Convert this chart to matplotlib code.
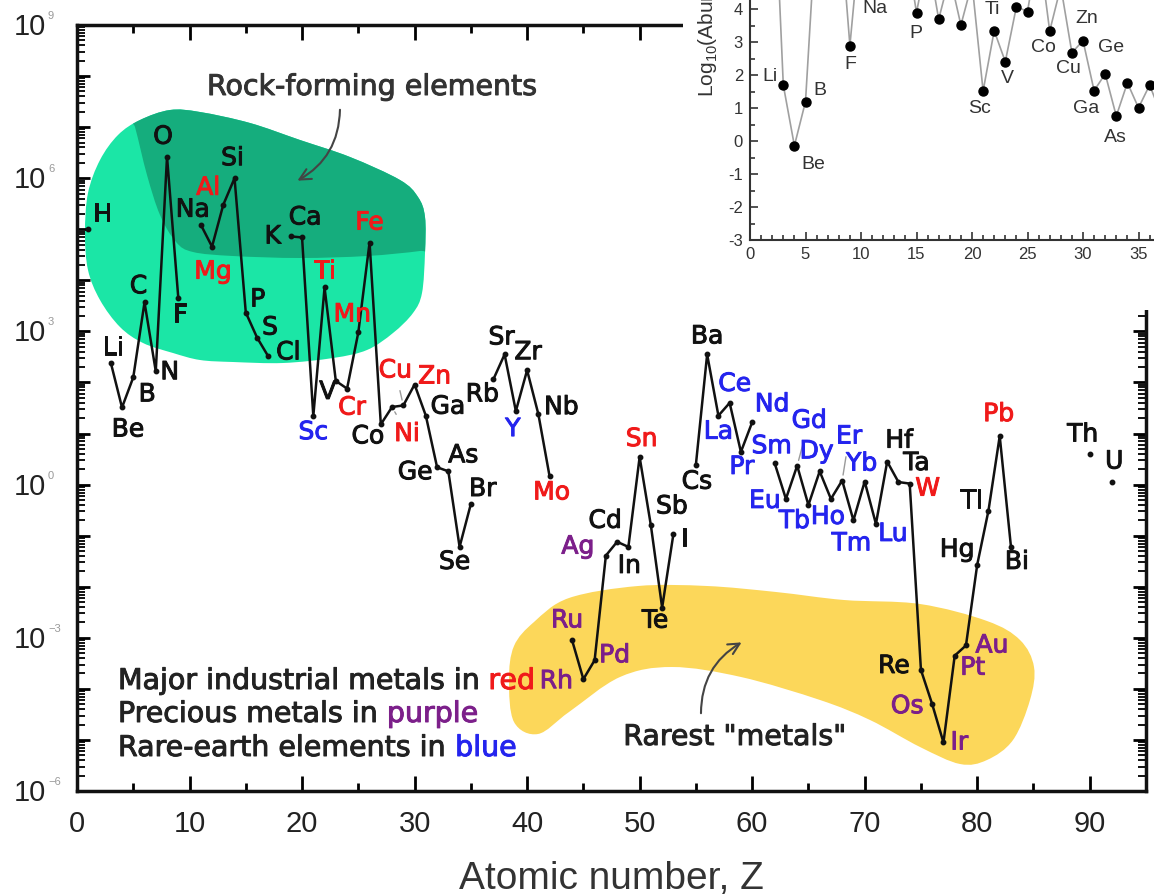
import matplotlib
matplotlib.use("Agg")
import matplotlib.pyplot as plt
import matplotlib.patheffects as pe
import numpy as np
from matplotlib.path import Path
from matplotlib.patches import PathPatch, Rectangle
from matplotlib.ticker import MultipleLocator, LogLocator, NullFormatter

plt.rcParams['font.family'] = ['Liberation Sans', 'DejaVu Sans']
plt.rcParams['axes.unicode_minus'] = False

# ---------------- data: abundance in crust (log10 atoms per 10^6 Si) ----------------
symbols = ['H', 'He', 'Li', 'Be', 'B', 'C', 'N', 'O', 'F', 'Ne',
           'Na', 'Mg', 'Al', 'Si', 'P', 'S', 'Cl', 'Ar', 'K', 'Ca',
           'Sc', 'Ti', 'V', 'Cr', 'Mn', 'Fe', 'Co', 'Ni', 'Cu', 'Zn',
           'Ga', 'Ge', 'As', 'Se', 'Br', 'Kr', 'Rb', 'Sr', 'Y', 'Zr',
           'Nb', 'Mo', 'Tc', 'Ru', 'Rh', 'Pd', 'Ag', 'Cd', 'In', 'Sn',
           'Sb', 'Te', 'I', 'Xe', 'Cs', 'Ba', 'La', 'Ce', 'Pr', 'Nd',
           'Pm', 'Sm', 'Eu', 'Gd', 'Tb', 'Dy', 'Ho', 'Er', 'Tm', 'Yb',
           'Lu', 'Hf', 'Ta', 'W', 'Re', 'Os', 'Ir', 'Pt', 'Au', 'Hg',
           'Tl', 'Pb', 'Bi', 'Po', 'At', 'Rn', 'Fr', 'Ra', 'Ac', 'Th',
           'Pa', 'U']
log_abund = [5.00, None, 2.39, 1.51, 2.10, 3.57, 2.22, 6.42, 3.66, None,
             5.09, 4.66, 5.48, 6.00, 3.37, 2.88, 2.51, None, 4.86, 4.84,
             1.34, 3.86, 2.03, 1.88, 2.98, 4.74, 1.18, 1.52, 1.55, 1.96,
             1.35, 0.34, 0.26, -1.22, -0.38, None, 2.06, 2.55, 1.44, 2.24,
             1.38, 0.16, None, -3.05, -3.81, -3.44, -1.39, -1.12, -1.22, 0.54,
             -0.80, -2.41, -0.97, None, 0.39, 2.55, 1.35, 1.60, 0.64, 1.22,
             None, 0.42, -0.28, 0.37, -0.40, 0.26, -0.28, 0.08, -0.70, 0.06,
             -0.77, 0.45, 0.05, 0.02, -3.63, -4.30, -5.05, -3.35, -3.15, -1.57,
             -0.51, 0.95, -1.22, None, None, None, None, None, None, 0.59,
             None, 0.06]

red_elements = ['Mg', 'Al', 'Ti', 'Cr', 'Mn', 'Fe', 'Ni', 'Cu', 'Zn', 'Mo', 'Sn', 'W', 'Pb']
purple_elements = ['Ru', 'Rh', 'Pd', 'Ag', 'Os', 'Ir', 'Pt', 'Au']
blue_elements = ['Sc', 'Y', 'La', 'Ce', 'Pr', 'Nd', 'Sm', 'Eu', 'Gd', 'Tb', 'Dy',
                 'Ho', 'Er', 'Tm', 'Yb', 'Lu']

# inset: solar-system abundances, log10 (Si = 10^6), Z = 1..38
inset_log = [10.45, 9.41, 1.70, -0.14, 1.20, 6.85, 6.29, 7.17, 2.90, 6.51,
             4.76, 6.01, 4.92, 6.00, 3.90, 5.64, 3.70, 5.01, 3.52, 4.79,
             1.52, 3.35, 2.41, 4.08, 3.93, 5.94, 3.34, 4.69, 2.68, 3.05,
             1.53, 2.04, 0.76, 1.77, 1.01, 1.70, 0.85, 1.37]
inset_labelled = ['Li', 'Be', 'B', 'F', 'Na', 'P', 'Sc', 'Ti', 'V', 'Co', 'Cu',
                  'Zn', 'Ga', 'Ge', 'As']

# ---------------- layout (reference pixels) ----------------
W, H = 1154, 896
AX_L, AX_R, AX_T, AX_B = 77, 1146, 25, 791

RED, PURPLE, BLUE = '#f01a1a', '#7c1f8a', '#2424ee'
GREEN_LIGHT, GREEN_DARK, YELLOW = '#1be6a6', '#15ad7d', '#fcd75a'

# label offsets from point, in pixels (dx right, dy down)
label_off = {
    'H': (14, -15), 'Li': (2, -15), 'Be': (6, 22), 'B': (14, 17), 'C': (-6, -16),
    'N': (14, 1), 'O': (-4, -20), 'F': (2, 17), 'Na': (-8, -15), 'Mg': (1, 25),
    'Al': (-15, -17), 'Si': (-2, -20), 'P': (12, -13), 'S': (13, -10), 'Cl': (20, -4),
    'K': (-18, 0), 'Ca': (3, -20), 'Sc': (0, 16), 'Ti': (0, -16), 'V': (-8, 11),
    'Cr': (5, 19), 'Mn': (-6, -18), 'Fe': (0, -20), 'Co': (-13, 12), 'Ni': (15, 27),
    'Cu': (-8, -35), 'Zn': (20, -8), 'Ga': (22, -9), 'Ge': (-22, 5), 'As': (15, -16),
    'Se': (-5, 15), 'Br': (12, -15), 'Rb': (-11, 15), 'Sr': (-3, -17), 'Y': (-3, 18),
    'Zr': (1, -18), 'Nb': (23, -7), 'Mo': (2, 16), 'Ru': (-5, -20), 'Rh': (-27, 2),
    'Pd': (20, -5), 'Ag': (-28, -9), 'Cd': (-12, -21), 'In': (1, 19), 'Sn': (2, -18),
    'Sb': (21, -19), 'Te': (-7, 13), 'I': (11, 5), 'Cs': (1, 17), 'Ba': (0, -18),
    'La': (0, 16), 'Ce': (5, -19), 'Pr': (1, 15), 'Nd': (20, -18), 'Sm': (-3, -17),
    'Eu': (-21, 2), 'Gd': (12, -45), 'Tb': (-14, 16), 'Dy': (-3, -20), 'Ho': (-3, 18),
    'Er': (7, -44), 'Tm': (-2, 23), 'Yb': (-3, -18), 'Lu': (17, 10), 'Hf': (12, -21),
    'Ta': (18, -19), 'W': (18, 5), 'Re': (-27, -4), 'Os': (-25, 2), 'Ir': (16, 0),
    'Pt': (18, 12), 'Au': (26, 0), 'Hg': (-20, -15), 'Tl': (-17, -10), 'Pb': (-1, -22),
    'Bi': (6, 15), 'Th': (-7, -20), 'U': (2, -20),
}
leader = ['Cu', 'Ni', 'Gd', 'Er']

inset_off = {
    'Li': (-13, -9), 'Be': (19, 19), 'B': (14, -11), 'F': (0, 19), 'Na': (3, 24),
    'P': (-1, 21), 'Sc': (-4, 17), 'Ti': (-2, -21), 'V': (2, 17), 'Co': (-6, 16),
    'Zn': (4, -22), 'Cu': (-3, 16), 'Ge': (6, -26), 'Ga': (-8, 18), 'As': (-1, 21),
}

# blob outlines (reference pixels)
green_outline = [(140, 120), (170, 110), (200, 112), (250, 123), (300, 140), (350, 157),
                 (400, 180), (418, 197), (425, 217), (425, 253), (422, 293), (413, 313),
                 (393, 333), (367, 350), (333, 358), (283, 363), (233, 362), (200, 360),
                 (173, 353), (143, 343), (120, 327), (100, 300), (88, 270), (85, 233),
                 (88, 193), (100, 160), (118, 135)]
green_dark = [(125, 95), (445, 95), (445, 246), (420, 251), (367, 256), (300, 258),
              (233, 256), (193, 252), (176, 242), (160, 215), (147, 175), (135, 127)]
yellow_outline = [(534, 622), (569, 598), (638, 586), (707, 586), (776, 592), (844, 600),
                  (920, 604), (987, 621), (1020, 640), (1034, 667), (1030, 700),
                  (1013, 740), (987, 760), (960, 764), (920, 747), (870, 720), (820, 700),
                  (741, 677), (672, 667), (620, 677), (569, 712), (538, 734), (514, 722),
                  (509, 680), (514, 646)]


def px(x, y):
    return ((x - AX_L) / (AX_R - AX_L), (AX_B - y) / (AX_B - AX_T))


def smooth_path(pts):
    p = np.array([px(x, y) for x, y in pts])
    n = len(p)
    verts = [p[0]]
    codes = [Path.MOVETO]
    for i in range(n):
        p0, p1, p2, p3 = p[i - 1], p[i], p[(i + 1) % n], p[(i + 2) % n]
        verts += [p1 + (p2 - p0) / 6, p2 - (p3 - p1) / 6, p2]
        codes += [Path.CURVE4] * 3
    verts.append(p[0])
    codes.append(Path.CLOSEPOLY)
    return Path(verts, codes)


def heavy(color):
    # a bit heavier than the regular weight, like the reference lettering
    return [pe.withStroke(linewidth=0.7, foreground=color)]


fig = plt.figure(figsize=(W / 100, H / 100), dpi=100)
ax = fig.add_axes([AX_L / W, 1 - AX_B / H, (AX_R - AX_L) / W, (AX_B - AX_T) / H], zorder=0)

# blobs
gpatch = PathPatch(smooth_path(green_outline), facecolor=GREEN_LIGHT, edgecolor='none',
                   transform=ax.transAxes, zorder=1)
ax.add_patch(gpatch)
dpatch = PathPatch(smooth_path(green_dark), facecolor=GREEN_DARK, edgecolor='none',
                   transform=ax.transAxes, zorder=1.1)
ax.add_patch(dpatch)
dpatch.set_clip_path(gpatch)
ax.add_patch(PathPatch(smooth_path(yellow_outline), facecolor=YELLOW, edgecolor='none',
                       transform=ax.transAxes, zorder=1))

# main series
Z = np.arange(1, len(symbols) + 1)
vals = np.array([10.0 ** v if v is not None else np.nan for v in log_abund])
ax.plot(Z, vals, color='#111111', lw=1.8, marker='o', ms=3.2, zorder=3)

for z, s, v in zip(Z, symbols, vals):
    if np.isnan(v):
        continue
    c = '#111111'
    if s in red_elements:
        c = RED
    elif s in purple_elements:
        c = PURPLE
    elif s in blue_elements:
        c = BLUE
    dx, dy = label_off[s]
    arrow = None
    if s in leader:
        arrow = dict(arrowstyle='-', color='#9a9a9a', lw=1.0, shrinkA=4, shrinkB=4)
    ax.annotate(s, xy=(z, v), xytext=(dx, -dy), textcoords='offset pixels',
                ha='center', va='center', fontsize=18, color=c, family='DejaVu Sans',
                arrowprops=arrow, zorder=4, path_effects=heavy(c))

ax.set_xlim(0, 95)
ax.set_yscale('log')
ax.set_ylim(1e-6, 1e9)

ax.xaxis.set_major_locator(MultipleLocator(10))
ax.xaxis.set_minor_locator(MultipleLocator(5))
ax.yaxis.set_major_locator(LogLocator(base=10, numticks=30))
ax.yaxis.set_minor_locator(LogLocator(base=10, subs=np.arange(2, 10), numticks=200))
ax.yaxis.set_major_formatter(NullFormatter())
ax.yaxis.set_minor_formatter(NullFormatter())

ax.tick_params(axis='x', which='major', direction='in', length=11, width=2,
               top=True, labelsize=21, pad=14, labelcolor='#222')
ax.tick_params(axis='x', which='minor', direction='in', length=6, width=2, top=True)
ax.tick_params(axis='y', which='major', direction='in', length=9.5, width=2, right=True)
ax.tick_params(axis='y', which='minor', direction='in', length=5.5, width=1.3, right=True)
for sp in ax.spines.values():
    sp.set_linewidth(2.5)
    sp.set_color('#111')

for e in [-6, -3, 0, 3, 6, 9]:
    ax.annotate('10', xy=(0, 10.0 ** e), xycoords=('axes fraction', 'data'),
                xytext=(-31, -2), textcoords='offset pixels', ha='right', va='center',
                fontsize=21, color='#222')
    ax.annotate(str(e).replace('-', '\u2212'), xy=(0, 10.0 ** e),
                xycoords=('axes fraction', 'data'), xytext=(-29, 9),
                textcoords='offset pixels', ha='left', va='center', fontsize=8, color='#999')

ax.set_xlabel('Atomic number, Z', fontsize=28, color='#333', labelpad=16)

# annotations
ax.text(*px(207, 87), 'Rock-forming elements', transform=ax.transAxes, ha='left',
        va='center', fontsize=20.5, color='#333', family='DejaVu Sans', zorder=5,
        path_effects=heavy('#333'))
ax.annotate('', xy=px(295, 182), xytext=px(340, 107), xycoords='axes fraction',
            textcoords='axes fraction',
            arrowprops=dict(arrowstyle='->', color='#444', lw=1.5,
                            connectionstyle='arc3,rad=-0.3', mutation_scale=20), zorder=5)
ax.text(*px(735, 737), 'Rarest "metals"', transform=ax.transAxes, ha='center',
        va='center', fontsize=20.5, color='#222', family='DejaVu Sans', zorder=5,
        path_effects=heavy('#222'))
ax.annotate('', xy=px(744, 641), xytext=px(701, 716), xycoords='axes fraction',
            textcoords='axes fraction',
            arrowprops=dict(arrowstyle='->', color='#444', lw=1.5,
                            connectionstyle='arc3,rad=-0.3', mutation_scale=20), zorder=5)

# colour key
renderer = fig.canvas.get_renderer()
key_lines = [('Major industrial metals in', 'red', RED, 689),
             ('Precious metals in', 'purple', PURPLE, 722),
             ('Rare-earth elements in', 'blue', BLUE, 756)]
for txt, word, col, yb in key_lines:
    t = ax.text(*px(118, yb), txt, transform=ax.transAxes, ha='left', va='baseline',
                fontsize=20.5, color='#222', family='DejaVu Sans', zorder=5,
                path_effects=heavy('#222'))
    wpx = t.get_window_extent(renderer).width
    ax.annotate(word, xy=px(118, yb), xycoords='axes fraction',
                xytext=(wpx + 9, 0), textcoords='offset pixels', ha='left',
                va='baseline', fontsize=20.5, color=col, family='DejaVu Sans', zorder=5,
                path_effects=heavy(col))

# ---------------- inset (pasted chart, top right) ----------------
fig.add_artist(Rectangle((683 / W, 1 - 310 / H), (W - 683) / W, 310 / H,
                         transform=fig.transFigure, facecolor='white',
                         edgecolor='none', zorder=1))
IN_L, IN_B = 750, 240
XU, YU = 11.1, 32.96  # inset pixels per unit
ins = fig.add_axes([IN_L / W, 1 - IN_B / H, 37 * XU / W, 7.6 * YU / H], zorder=2)
iz = np.arange(1, len(inset_log) + 1)
ins.plot(iz, inset_log, color='#a0a0a0', lw=1.2, zorder=2)
ins.plot(iz, inset_log, 'o', color='black', ms=6.5, zorder=3)
for z, s, v in zip(iz, symbols, inset_log):
    if s in inset_labelled:
        dx, dy = inset_off[s]
        ins.annotate(s, xy=(z, v), xytext=(dx, -dy), textcoords='offset pixels',
                     ha='center', va='center', fontsize=14, color='#333',
                     annotation_clip=False)
ins.set_xlim(0, 37)
ins.set_ylim(-3, 4.6)
ins.xaxis.set_major_locator(MultipleLocator(5))
ins.xaxis.set_minor_locator(MultipleLocator(1))
ins.yaxis.set_major_locator(MultipleLocator(1))
ins.yaxis.set_minor_locator(MultipleLocator(0.5))
ins.tick_params(which='major', direction='in', length=6, width=1.2, labelsize=12,
                labelcolor='#333', color='#333', pad=5)
ins.tick_params(which='minor', direction='in', length=3.5, width=1.2, color='#333')
for sp in ins.spines.values():
    sp.set_linewidth(1.5)
    sp.set_color('#333')
fig.text(707 / W, 1 - 97 / H, r'Log$_{\mathregular{10}}$(Abundance, atoms per 10$^{\mathregular{6}}$ Si)',
         rotation=90, ha='center', va='bottom', fontsize=15, color='#333', zorder=3)

fig.savefig('out.png', dpi=100)
